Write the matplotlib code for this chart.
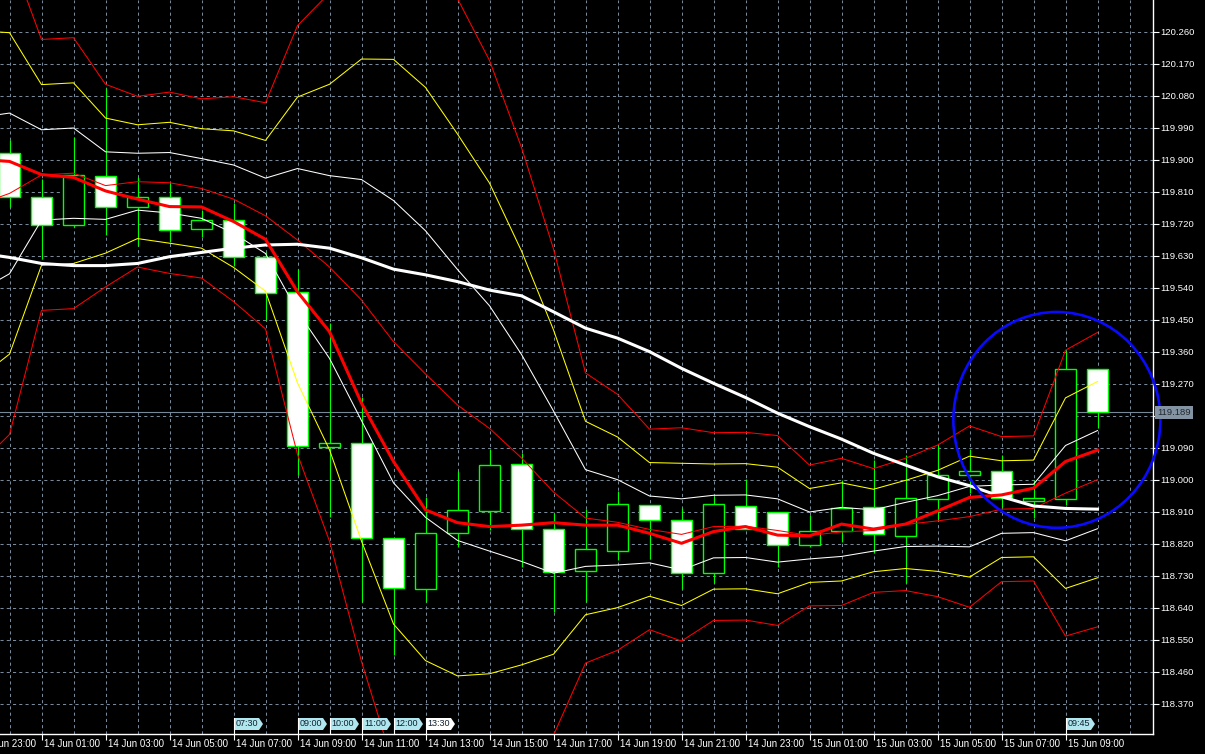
import matplotlib
matplotlib.use("Agg")
import matplotlib.pyplot as plt
import matplotlib.transforms as mtransforms
from matplotlib.patches import Rectangle, Ellipse, Polygon
import numpy as np

plt.rcParams.update({
    "font.family": ["Liberation Sans", "DejaVu Sans"],
    "font.size": 6.5,
})

# hourly bars, index 0 = 14 Jun 00:00
bar_idx = np.arange(35)
opens = [119.918, 119.794, 119.715, 119.855, 119.766, 119.796, 119.704, 119.729, 119.625, 119.529,
         119.091, 119.102, 118.835, 118.692, 118.849, 118.913, 119.043, 118.860, 118.742, 118.800,
         118.928, 118.886, 118.737, 118.927, 118.910, 118.815, 118.855, 118.922, 118.842, 118.945,
         119.012, 119.025, 118.941, 118.945, 119.310]
highs = [119.955, 119.845, 119.963, 120.102, 119.850, 119.834, 119.758, 119.777, 119.640, 119.592,
         119.440, 119.233, 118.840, 118.952, 119.025, 119.085, 119.074, 118.905, 118.917, 118.968,
         118.930, 118.919, 118.955, 119.001, 118.910, 118.901, 118.999, 119.055, 119.069, 119.097,
         119.085, 119.069, 118.999, 119.365, 119.310]
lows = [119.768, 119.620, 119.710, 119.688, 119.657, 119.669, 119.683, 119.601, 119.449, 119.013,
        118.894, 118.657, 118.507, 118.657, 118.811, 118.858, 118.754, 118.627, 118.657, 118.774,
        118.778, 118.692, 118.709, 118.862, 118.755, 118.810, 118.826, 118.793, 118.709, 118.887,
        118.962, 118.919, 118.891, 118.929, 119.146]
closes = [119.794, 119.715, 119.857, 119.766, 119.796, 119.702, 119.729, 119.625, 119.524, 119.095,
          119.102, 118.835, 118.694, 118.849, 118.915, 119.041, 118.860, 118.740, 118.804, 118.931,
          118.886, 118.737, 118.931, 118.862, 118.815, 118.855, 118.919, 118.846, 118.948, 119.012,
          119.025, 118.948, 118.948, 119.310, 119.189]

# indicator values, index -1 = 13 Jun 23:00
ind_idx = np.arange(-1, 35)
ma_slow = [119.638, 119.625, 119.608, 119.602, 119.602, 119.608, 119.627, 119.639, 119.651, 119.660,
           119.662, 119.651, 119.624, 119.592, 119.576, 119.557, 119.533, 119.517, 119.472, 119.426,
           119.398, 119.360, 119.313, 119.271, 119.231, 119.187, 119.149, 119.114, 119.074, 119.041,
           119.008, 118.983, 118.952, 118.926, 118.919, 118.917]
ma_fast = [119.901, 119.895, 119.858, 119.850, 119.812, 119.789, 119.768, 119.767, 119.726, 119.676,
           119.528, 119.416, 119.215, 119.051, 118.915, 118.879, 118.868, 118.872, 118.879, 118.872,
           118.872, 118.849, 118.821, 118.854, 118.868, 118.844, 118.842, 118.875, 118.861, 118.875,
           118.912, 118.950, 118.957, 118.976, 119.051, 119.083]
bb_mid = [119.773, 119.805, 119.857, 119.862, 119.827, 119.838, 119.835, 119.819, 119.789, 119.742,
          119.674, 119.598, 119.505, 119.388, 119.297, 119.210, 119.144, 119.061, 118.965, 118.892,
          118.880, 118.860, 118.846, 118.868, 118.869, 118.857, 118.843, 118.853, 118.857, 118.874,
          118.884, 118.896, 118.917, 118.919, 118.962, 119.000]
bb_dev = [0.245, 0.226, 0.127, 0.127, 0.095, 0.080, 0.085, 0.084, 0.096, 0.106,
          0.201, 0.257, 0.339, 0.397, 0.403, 0.381, 0.345, 0.291, 0.228, 0.136,
          0.120, 0.094, 0.100, 0.088, 0.088, 0.089, 0.066, 0.069, 0.058, 0.062,
          0.071, 0.085, 0.068, 0.068, 0.134, 0.138]

time_ticks = np.arange(-1, 35, 2)
time_labels = ['13 Jun 23:00', '14 Jun 01:00', '14 Jun 03:00', '14 Jun 05:00', '14 Jun 07:00',
               '14 Jun 09:00', '14 Jun 11:00', '14 Jun 13:00', '14 Jun 15:00', '14 Jun 17:00',
               '14 Jun 19:00', '14 Jun 21:00', '14 Jun 23:00', '15 Jun 01:00', '15 Jun 03:00',
               '15 Jun 05:00', '15 Jun 07:00', '15 Jun 09:00']
price_ticks = [118.370, 118.460, 118.550, 118.640, 118.730, 118.820, 118.910, 119.000,
               119.090, 119.180, 119.270, 119.360, 119.450, 119.540, 119.630, 119.720,
               119.810, 119.900, 119.990, 120.080, 120.170, 120.260]
# 119.180 sits under the current price box
price_labels = ['118.370', '118.460', '118.550', '118.640', '118.730', '118.820', '118.910', '119.000',
                '119.090', '', '119.270', '119.360', '119.450', '119.540', '119.630', '119.720',
                '119.810', '119.900', '119.990', '120.080', '120.170', '120.260']

event_idx = [7, 9, 10, 11, 12, 13, 33]
event_labels = ['07:30', '09:00', '10:00', '11:00', '12:00', '13:30', '09:45']
event_past = [True, True, True, True, True, False, True]

last_price = 119.189

fig = plt.figure(figsize=(12.05, 7.54), dpi=100, facecolor='black')
ax = fig.add_axes([0, 20 / 754, 1153 / 1205, 734 / 754])
ax.set_facecolor('black')

# grid
ax.set_xticks(time_ticks)
ax.set_xticks(np.arange(-1, 36), minor=True)
ax.set_xticklabels([])
ax.set_yticks(price_ticks)
ax.set_yticklabels(price_labels)
ax.set_xlim(-0.297, 35.734)
ax.set_ylim(118.2846, 120.349)
ax.yaxis.tick_right()
ax.grid(True, which='both', color='#778899', lw=0.75, linestyle=(0, (3, 3)))
ax.set_axisbelow(True)
ax.tick_params(axis='x', which='major', direction='out', length=4, width=0.8, color='white')
ax.tick_params(axis='x', which='minor', length=0)
ax.tick_params(axis='y', direction='out', length=4, width=0.8, color='white',
               labelcolor='white', pad=1.5, labelsize=6.8)
for s in ['left', 'top']:
    ax.spines[s].set_visible(False)
for s in ['right', 'bottom']:
    ax.spines[s].set_color('white')
    ax.spines[s].set_linewidth(1)

# time labels
lab_tr = mtransforms.offset_copy(ax.get_xaxis_transform(), fig=fig, x=2, y=-10, units='dots')
for t, s in zip(time_ticks, time_labels):
    ax.text(t, 0, s, transform=lab_tr, color='white', fontsize=7,
            ha='left', va='center', clip_on=False)

# bid line
ax.axhline(last_price, color='#778899', lw=0.8, zorder=1)

# candles
w = 0.64
for i, o, h, l, c in zip(bar_idx, opens, highs, lows, closes):
    ax.vlines(i, l, h, color='#00ff00', lw=0.8, zorder=2)
    face = 'white' if c < o else 'black'
    ax.add_patch(Rectangle((i - w / 2, min(o, c)), w, abs(c - o),
                           facecolor=face, edgecolor='#00ff00', lw=1.0, zorder=3))

# bollinger bands
mid = np.array(bb_mid)
dev = np.array(bb_dev)
for k, col in [(1, 'white'), (2, 'yellow'), (3, 'red')]:
    ax.plot(ind_idx, mid + k * dev, color=col, lw=0.75, zorder=4)
    ax.plot(ind_idx, mid - k * dev, color=col, lw=0.75, zorder=4)
ax.plot(ind_idx, mid, color='red', lw=0.75, zorder=4)

# moving averages
ax.plot(ind_idx, ma_slow, color='white', lw=2.2, zorder=5, solid_joinstyle='round')
ax.plot(ind_idx, ma_fast, color='red', lw=2.2, zorder=6, solid_joinstyle='round')

# hand drawn circle
ax.add_patch(Ellipse((32.73, 119.168), 6.47, 0.607, fill=False, edgecolor='#0a0aff',
                     lw=1.9, zorder=7, clip_on=False))

# price label
pr_tr = mtransforms.offset_copy(ax.get_yaxis_transform(), fig=fig, x=4, y=0, units='dots')
ax.text(1.0, last_price, '%.3f' % last_price, transform=pr_tr, color='#202830', fontsize=6.8,
        ha='left', va='center', clip_on=False, zorder=10,
        bbox=dict(boxstyle='square,pad=0.2', fc='#8393a3', ec='none'))

# event markers
ident = mtransforms.IdentityTransform()
for i, s, past in zip(event_idx, event_labels, event_past):
    x0, _ = ax.transData.transform((i, last_price))
    x0 = round(x0)
    fc = '#b0e6ee' if past else 'white'
    pts = [(x0, 24), (x0 + 25, 24), (x0 + 29, 30), (x0 + 25, 36), (x0, 36)]
    ax.add_patch(Polygon(pts, closed=True, transform=ident, facecolor=fc,
                         edgecolor='none', clip_on=False, zorder=8))
    ax.plot([x0, x0], [20, 36], transform=ident, color='white', lw=0.8, clip_on=False, zorder=9)
    ax.text(x0 + 13, 30, s, transform=ident, color='#102030', fontsize=6.5,
            ha='center', va='center', clip_on=False, zorder=9)

fig.savefig('out.png', dpi=100, facecolor='black')
